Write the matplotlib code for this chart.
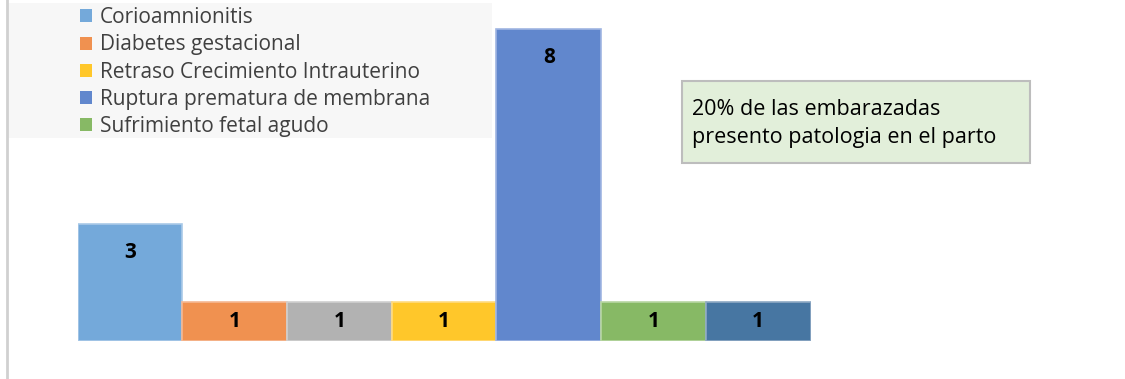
import matplotlib
matplotlib.use("Agg")
import matplotlib.pyplot as plt
from matplotlib.patches import Rectangle, Patch
from matplotlib.lines import Line2D

categories = ["Corioamnionitis", "Diabetes gestacional", "Otro", "Retraso Crecimiento Intrauterino",
              "Ruptura prematura de membrana", "Sufrimiento fetal agudo", "Otro 2"]
values = [3, 1, 1, 1, 8, 1, 1]
colors = ["#74A9DA", "#F09150", "#B2B2B2", "#FFC72A", "#6187CD", "#87B965", "#4776A2"]
edge_colors = ["#A9C9E8", "#F5B893", "#D0D0D0", "#FFDB80", "#A0B5E2", "#B8D6A3", "#8EA9C4"]
legend_labels = ["Corioamnionitis", "Diabetes gestacional", "Retraso Crecimiento Intrauterino",
                 "Ruptura prematura de membrana", "Sufrimiento fetal agudo"]
legend_colors = ["#74A9DA", "#F09150", "#FFC72A", "#6187CD", "#87B965"]
note_text = "20% de las embarazadas\npresento patologia en el parto"

W, H = 1125, 379
plt.rcParams['font.family'] = ['Open Sans', 'DejaVu Sans']
fig = plt.figure(figsize=(W / 100, H / 100), dpi=100)

ax = fig.add_axes([77.5 / W, 1 - 341 / H, 733 / W, 331.5 / H])
x = list(range(len(values)))
ax.bar(x, values, width=1.0, color=colors, edgecolor=edge_colors, linewidth=1.2, zorder=3)
ax.set_xlim(-0.5, len(values) - 0.5)
ax.set_ylim(0, 8.5)
ax.axis('off')
for xi, v in zip(x, values):
    ax.text(xi, v - min(0.72, v / 2), str(v), ha='center', va='center',
            fontsize=15, fontweight='bold', color='black', zorder=4)

# left border line
fig.add_artist(Line2D([6.5 / W, 6.5 / W], [0, 1], transform=fig.transFigure,
                      color="#D0D0D0", linewidth=2))

# legend background
fig.add_artist(Rectangle((8 / W, 1 - 138 / H), 484 / W, 135 / H, transform=fig.transFigure,
                         facecolor="#F7F7F7", edgecolor='none', zorder=0))
handles = [Patch(facecolor=c, edgecolor='none') for c in legend_colors]
leg = fig.legend(handles, legend_labels, loc='upper left', bbox_to_anchor=(76 / W, 1 - 3 / H),
                 frameon=False, fontsize=15, handlelength=0.58, handleheight=0.58,
                 handletextpad=0.38, labelspacing=0.30, borderaxespad=0, borderpad=0.2)
for t in leg.get_texts():
    t.set_color("#404040")

# note box
fig.add_artist(Rectangle((682 / W, 1 - 163 / H), 348 / W, 82 / H, transform=fig.transFigure,
                         facecolor="#E2EFDA", edgecolor="#BDBDBD", linewidth=1.5, zorder=2))
fig.text(692 / W, 1 - 123.5 / H, note_text, ha='left', va='center', fontsize=15.5,
         color='black', linespacing=1.4, zorder=3)

fig.savefig("out.png", dpi=100)
